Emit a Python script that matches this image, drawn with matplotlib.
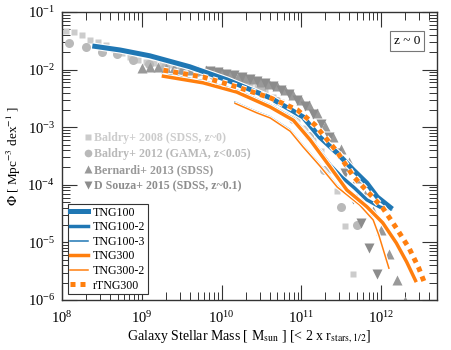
import numpy as np
import matplotlib
matplotlib.use("Agg")
import matplotlib.pyplot as plt
import matplotlib.patheffects as pe
from matplotlib.lines import Line2D
from matplotlib.ticker import LogLocator, NullFormatter

plt.rcParams['font.family'] = ['Liberation Serif', 'DejaVu Serif']
plt.rcParams['mathtext.fontset'] = 'stix'

# ---------------- data (log10 Mstar, log10 Phi) ----------------
# Observations
baldry08_logm = [8.05, 8.15, 8.25, 8.35, 8.45, 8.55, 8.65, 8.75, 8.85, 8.95, 9.05, 9.15,
                 9.25, 9.35, 9.45, 9.55, 9.65, 9.75, 9.85, 9.95, 10.05, 10.15, 10.25,
                 10.35, 10.45, 10.55, 10.65, 10.75, 10.85, 10.95, 11.05, 11.15, 11.25,
                 11.35, 11.45, 11.55, 11.65]
baldry08_logphi = [-1.33, -1.35, -1.40, -1.49, -1.52, -1.57, -1.64, -1.71, -1.78, -1.83, -1.87, -1.89,
                   -1.90, -1.92, -1.95, -1.97, -2.00, -2.03, -2.06, -2.09, -2.12, -2.16, -2.20,
                   -2.25, -2.31, -2.38, -2.47, -2.57, -2.70, -2.85, -3.02, -3.22, -3.42,
                   -3.75, -4.11, -4.72, -5.55]

baldry12_logm = [8.09, 8.30, 8.50, 8.69, 8.89, 9.09, 9.29, 9.49, 9.69, 9.89, 10.09, 10.29,
                 10.49, 10.69, 10.89, 11.09, 11.29, 11.50, 11.70]
baldry12_logphi = [-1.54, -1.61, -1.69, -1.73, -1.83, -1.90, -1.95, -2.00, -2.05, -2.10, -2.15, -2.25,
                   -2.35, -2.55, -2.85, -3.15, -3.74, -4.39, -4.70]

bernardi13_logm = [9.0, 9.1, 9.2, 9.3, 9.4, 9.5, 9.6, 9.7, 9.8, 9.9, 10.0, 10.1, 10.2, 10.3,
                   10.4, 10.5, 10.6, 10.7, 10.8, 10.9, 11.0, 11.1, 11.2, 11.3, 11.4, 11.5,
                   11.6, 11.7, 11.8, 11.9, 12.0, 12.1, 12.2, 12.3]
bernardi13_logphi = [-1.97, -1.96, -1.96, -1.97, -1.98, -1.99, -2.00, -2.00, -2.01, -2.03, -2.05,
                     -2.09, -2.13, -2.15, -2.17, -2.21, -2.25, -2.29, -2.35, -2.44, -2.53,
                     -2.62, -2.75, -2.98, -3.17, -3.37, -3.60, -3.88, -4.18, -4.45, -4.78,
                     -5.20, -5.65, -6.02]

dsouza15_logm = [9.85, 9.95, 10.05, 10.15, 10.25, 10.35, 10.45, 10.55, 10.65, 10.75, 10.85,
                 10.95, 11.05, 11.15, 11.25, 11.35, 11.45, 11.55, 11.65, 11.75, 11.85, 11.95]
dsouza15_logphi = [-2.03, -2.05, -2.07, -2.10, -2.13, -2.16, -2.20, -2.24, -2.29, -2.35, -2.43,
                   -2.52, -2.63, -2.77, -2.95, -3.17, -3.45, -3.80, -4.24, -4.67, -5.09, -5.55]

# Simulations
tng100_logm = [8.38, 8.73, 9.10, 9.60, 10.07, 10.61, 11.02, 11.23, 11.45, 11.65, 11.82, 11.95, 12.14]
tng100_logphi = [-1.59, -1.66, -1.76, -1.95, -2.18, -2.49, -2.82, -3.17, -3.45, -3.74, -3.97, -4.21, -4.42]

tng100_2_logm = [9.27, 9.77, 10.19, 10.61, 10.90, 11.11, 11.36, 11.51, 11.67, 11.82, 11.99, 12.14]
tng100_2_logphi = [-2.09, -2.21, -2.37, -2.63, -2.855, -3.195, -3.655, -3.87, -4.06, -4.26, -4.39, -4.42]

tng100_3_logm = [10.16, 10.44, 10.61, 10.86, 11.02, 11.23, 11.45, 11.67]
tng100_3_logphi = [-2.56, -2.73, -2.82, -3.045, -3.315, -3.645, -4.015, -4.29]

tng300_logm = [9.25, 9.77, 10.19, 10.61, 10.90, 11.11, 11.36, 11.57, 11.82, 12.02, 12.19, 12.32, 12.44]
tng300_logphi = [-2.11, -2.23, -2.39, -2.65, -2.88, -3.22, -3.69, -4.09, -4.38, -4.66, -5.01, -5.34, -5.69]

tng300_2_logm = [10.16, 10.44, 10.61, 10.86, 11.02, 11.23, 11.45, 11.73, 11.90, 11.97, 12.10]
tng300_2_logphi = [-2.58, -2.75, -2.84, -3.07, -3.34, -3.67, -4.04, -4.35, -4.61, -4.87, -5.46]

rtng300_logm = [9.27, 9.77, 10.19, 10.61, 10.95, 11.17, 11.45, 11.65, 11.81, 12.02, 12.19, 12.35, 12.47, 12.54]
rtng300_logphi = [-2.01, -2.13, -2.30, -2.49, -2.70, -2.96, -3.43, -3.85, -4.09, -4.40, -4.75, -5.10, -5.44, -5.69]

BLUE = '#1f77b4'
ORANGE = '#ff7f0e'
C_B08 = '#cccccc'
C_B12 = '#b9b9b9'
C_BE13 = '#999999'
C_DS15 = '#8c8c8c'

fig = plt.figure(figsize=(4.52, 3.50), dpi=100)
ax = fig.add_axes([62/452, 1-300/350, (437-62)/452, (300-12)/350])

p = lambda a: 10**np.asarray(a)

# observations
ax.plot(p(baldry08_logm), p(baldry08_logphi), 's', color=C_B08, ms=5, mec='none', zorder=2)
ax.plot(p(baldry12_logm), p(baldry12_logphi), 'o', color=C_B12, ms=6.5, mec='none', zorder=2)
ax.plot(p(bernardi13_logm), p(bernardi13_logphi), '^', color=C_BE13, ms=7, mec='none', zorder=2)
ax.plot(p(dsouza15_logm), p(dsouza15_logphi), 'v', color=C_DS15, ms=7, mec='none', zorder=2)

def sim(x, y, color, lw, ls='-', z=3):
    l, = ax.plot(p(x), p(y), color=color, lw=lw, ls=ls, zorder=z,
                 solid_capstyle='butt', dash_capstyle='butt')
    l.set_path_effects([pe.Stroke(linewidth=lw + 1.6, foreground='white'), pe.Normal()])
    return l

sim(tng100_3_logm, tng100_3_logphi, BLUE, 1.1, z=3.0)
sim(tng300_2_logm, tng300_2_logphi, ORANGE, 1.1, z=3.1)
sim(tng100_2_logm, tng100_2_logphi, BLUE, 2.5, z=3.2)
sim(tng300_logm, tng300_logphi, ORANGE, 2.5, z=3.3)
sim(tng100_logm, tng100_logphi, BLUE, 3.6, z=3.4)
sim(rtng300_logm, rtng300_logphi, ORANGE, 3.6, ls=(0, (1, 1)), z=3.5)

ax.set_xscale('log')
ax.set_yscale('log')
ax.set_xlim(1e8, 10**12.7)
ax.set_ylim(1e-6, 1e-1)

ax.xaxis.set_major_locator(LogLocator(base=10, numticks=20))
ax.xaxis.set_minor_locator(LogLocator(base=10, subs=np.arange(2, 10), numticks=40))
ax.yaxis.set_major_locator(LogLocator(base=10, numticks=20))
ax.yaxis.set_minor_locator(LogLocator(base=10, subs=np.arange(2, 10), numticks=40))
ax.xaxis.set_minor_formatter(NullFormatter())
ax.yaxis.set_minor_formatter(NullFormatter())
ax.tick_params(which='both', direction='in', top=True, right=True, labelsize=10.5, color='#333333')
ax.tick_params(which='major', length=10.5, width=0.8)
ax.tick_params(axis='x', which='major', pad=7)
ax.tick_params(axis='y', which='major', pad=5)
ax.tick_params(which='minor', length=5.5, width=0.7)
for s in ax.spines.values():
    s.set_linewidth(1.0)
    s.set_color('#333333')

ax.set_xlabel(r'Galaxy Stellar Mass [ M$_{\rm sun}$ ] [< 2 x r$_{\rm stars,1/2}$]', fontsize=10, labelpad=2)
ax.set_ylabel(r'$\Phi$ [ Mpc$^{-3}$ dex$^{-1}$ ]', fontsize=9.5, labelpad=3)

# z ~ 0 box
ax.text(0.92, 0.90, 'z ~ 0', transform=ax.transAxes, fontsize=9.5, ha='center', va='center',
        bbox=dict(boxstyle='square,pad=0.3', fc='white', ec='#777777', lw=0.8))

# observation legend
obs_handles = [
    Line2D([], [], ls='none', marker='s', color=C_B08, ms=4.5, mec='none'),
    Line2D([], [], ls='none', marker='o', color=C_B12, ms=5.5, mec='none'),
    Line2D([], [], ls='none', marker='^', color=C_BE13, ms=6, mec='none'),
    Line2D([], [], ls='none', marker='v', color=C_DS15, ms=6, mec='none'),
]
obs_labels = ['Baldry+ 2008 (SDSS, z~0)', 'Baldry+ 2012 (GAMA, z<0.05)',
              'Bernardi+ 2013 (SDSS)', 'D Souza+ 2015 (SDSS, z~0.1)']
leg1 = ax.legend(obs_handles, obs_labels, loc='upper left', bbox_to_anchor=(0.045, 0.605),
                 frameon=False, handlelength=0.6, handletextpad=0.2, labelspacing=0.36,
                 borderpad=0.0, prop={'weight': 'bold', 'size': 8.6})
for t, c in zip(leg1.get_texts(), [C_B08, C_B12, C_BE13, C_DS15]):
    t.set_color(c)
ax.add_artist(leg1)

sim_handles = [
    Line2D([], [], color=BLUE, lw=3.6),
    Line2D([], [], color=BLUE, lw=2.5),
    Line2D([], [], color=BLUE, lw=1.1),
    Line2D([], [], color=ORANGE, lw=2.5),
    Line2D([], [], color=ORANGE, lw=1.1),
    Line2D([], [], color=ORANGE, lw=3.6, ls=(0, (1, 1))),
]
sim_labels = ['TNG100', 'TNG100-2', 'TNG100-3', 'TNG300', 'TNG300-2', 'rTNG300']
leg2 = ax.legend(sim_handles, sim_labels, loc='lower left', fontsize=8.6,
                 handlelength=1.5, handletextpad=0.4, labelspacing=0.22,
                 borderaxespad=0.5, borderpad=0.2, fancybox=False, framealpha=1,
                 edgecolor='#333333')
leg2.get_frame().set_linewidth(0.8)

fig.savefig('out.png', dpi=100)
